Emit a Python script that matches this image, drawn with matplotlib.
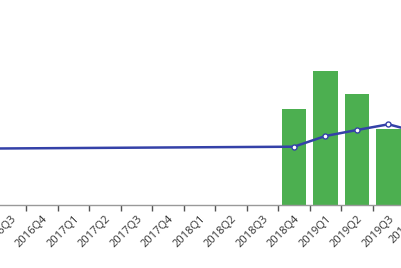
import matplotlib
matplotlib.use("Agg")
import matplotlib.pyplot as plt
from matplotlib.transforms import offset_copy
import numpy as np

# quarters shown on the category axis
quarters = ["2016Q1", "2016Q2", "2016Q3", "2016Q4",
            "2017Q1", "2017Q2", "2017Q3", "2017Q4",
            "2018Q1", "2018Q2", "2018Q3", "2018Q4",
            "2019Q1", "2019Q2", "2019Q3", "2019Q4"]

# bar series (only the last quarters have data)
bar_quarters = ["2018Q4", "2019Q1", "2019Q2", "2019Q3", "2019Q4"]
bar_values = [96, 134, 111, 76, 90]

# line series (gaps between the first point and 2018Q4 are connected)
line_quarters = ["2016Q1", "2018Q4", "2019Q1", "2019Q2", "2019Q3", "2019Q4"]
line_values = [56.2, 58.3, 69, 75, 80.7, 72.4]


def main():
	plt.rcParams["font.family"] = ["Open Sans", "DejaVu Sans"]
	fig = plt.figure(figsize=(4.02, 2.68), dpi=100)
	ax = fig.add_axes([0, 1 - 205 / 268, 1, 205 / 268])

	pos = {q: i for i, q in enumerate(quarters)}
	bx = [pos[q] for q in bar_quarters]
	lx = [pos[q] for q in line_quarters]

	ax.bar(bx, bar_values, width=0.79, color="#4caf50", zorder=2)
	ax.plot(lx, line_values, color="#3441a8", lw=1.8, zorder=3)
	# markers only for the quarters with real symbols
	ax.plot(lx[1:], line_values[1:], ls="none", marker="o", ms=3.6,
	        mfc="white", mec="#3441a8", mew=1.0, zorder=4)

	for s in ["top", "right", "left"]:
		ax.spines[s].set_visible(False)
	ax.spines["bottom"].set_color("#999999")
	ax.spines["bottom"].set_linewidth(1.0)
	ax.set_yticks([])

	centers = np.arange(len(quarters))
	ax.set_xticks(centers, quarters, rotation=45, ha="right",
	              rotation_mode="anchor", fontsize=8, color="#333333")
	ax.tick_params(axis="x", which="major", length=0, pad=6)
	ax.set_xticks(centers[:-1] + 0.5, minor=True)
	ax.tick_params(axis="x", which="minor", length=4, width=1, color="#555555")

	# limits set after the ticks so they are not widened again
	ax.set_xlim(1.667, 14.43)
	ax.set_ylim(0, 205)

	# the last quarter label sits just past the right edge, draw it by hand
	tr = offset_copy(ax.get_xaxis_transform(), fig=fig, y=-6, units="points")
	ax.text(pos["2019Q4"], 0, "2019Q4", transform=tr, rotation=45,
	        ha="right", va="center", rotation_mode="anchor",
	        fontsize=8, color="#333333", clip_on=False)

	fig.savefig("out.png", dpi=100)


if __name__ == "__main__":
	main()
